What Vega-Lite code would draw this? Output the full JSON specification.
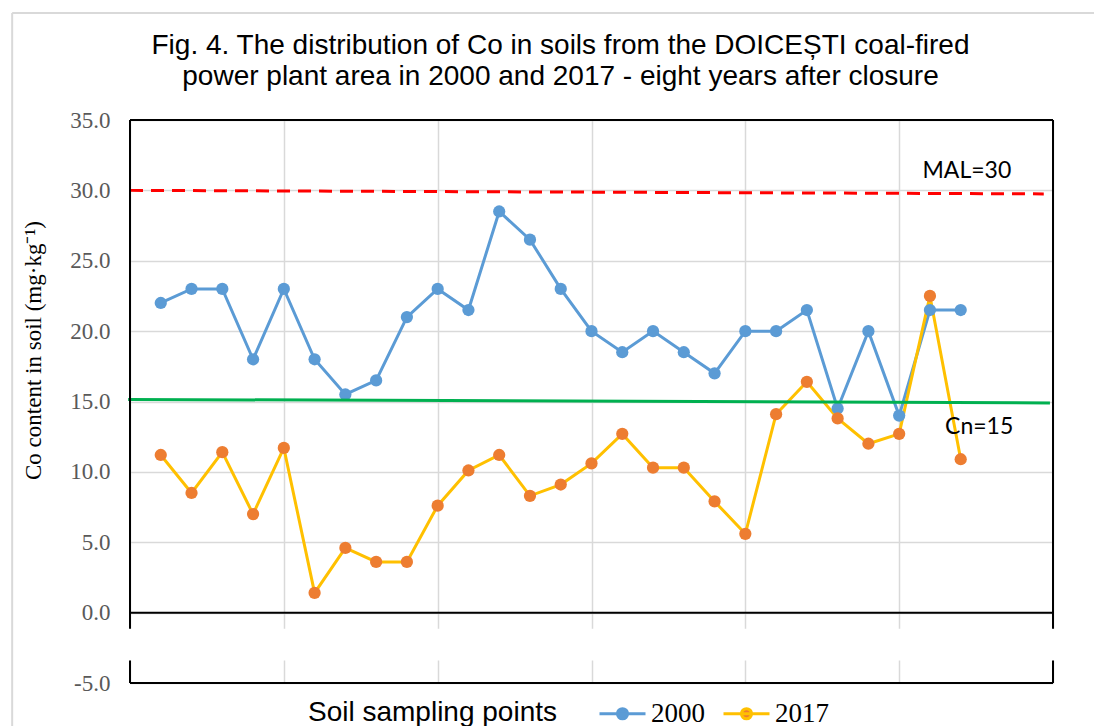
{
  "$schema": "https://vega.github.io/schema/vega-lite/v6.json",
  "width": 923,
  "height": 563,
  "autosize": {"type": "none"},
  "padding": {"left": 130, "top": 120, "right": 41, "bottom": 43},
  "background": "white",
  "config": {"view": {"stroke": null}},
  "title": {
    "text": ["Fig. 4. The distribution of Co in soils from the DOICEȘTI  coal-fired", "power plant area in 2000 and 2017 - eight years after closure"],
    "font": "Liberation Sans",
    "fontSize": 28,
    "fontWeight": "normal",
    "color": "#000000",
    "anchor": "middle",
    "baseline": "bottom",
    "dx": -31,
    "offset": -107,
    "lineHeight": 31
  },
  "datasets": {
    "co": [
      {"point": 1, "year": "2000", "value": 22.0},
      {"point": 2, "year": "2000", "value": 23.0},
      {"point": 3, "year": "2000", "value": 23.0},
      {"point": 4, "year": "2000", "value": 18.0},
      {"point": 5, "year": "2000", "value": 23.0},
      {"point": 6, "year": "2000", "value": 18.0},
      {"point": 7, "year": "2000", "value": 15.5},
      {"point": 8, "year": "2000", "value": 16.5},
      {"point": 9, "year": "2000", "value": 21.0},
      {"point": 10, "year": "2000", "value": 23.0},
      {"point": 11, "year": "2000", "value": 21.5},
      {"point": 12, "year": "2000", "value": 28.5},
      {"point": 13, "year": "2000", "value": 26.5},
      {"point": 14, "year": "2000", "value": 23.0},
      {"point": 15, "year": "2000", "value": 20.0},
      {"point": 16, "year": "2000", "value": 18.5},
      {"point": 17, "year": "2000", "value": 20.0},
      {"point": 18, "year": "2000", "value": 18.5},
      {"point": 19, "year": "2000", "value": 17.0},
      {"point": 20, "year": "2000", "value": 20.0},
      {"point": 21, "year": "2000", "value": 20.0},
      {"point": 22, "year": "2000", "value": 21.5},
      {"point": 23, "year": "2000", "value": 14.5},
      {"point": 24, "year": "2000", "value": 20.0},
      {"point": 25, "year": "2000", "value": 14.0},
      {"point": 26, "year": "2000", "value": 21.5},
      {"point": 27, "year": "2000", "value": 21.5},
      {"point": 1, "year": "2017", "value": 11.2},
      {"point": 2, "year": "2017", "value": 8.5},
      {"point": 3, "year": "2017", "value": 11.4},
      {"point": 4, "year": "2017", "value": 7.0},
      {"point": 5, "year": "2017", "value": 11.7},
      {"point": 6, "year": "2017", "value": 1.4},
      {"point": 7, "year": "2017", "value": 4.6},
      {"point": 8, "year": "2017", "value": 3.6},
      {"point": 9, "year": "2017", "value": 3.6},
      {"point": 10, "year": "2017", "value": 7.6},
      {"point": 11, "year": "2017", "value": 10.1},
      {"point": 12, "year": "2017", "value": 11.2},
      {"point": 13, "year": "2017", "value": 8.3},
      {"point": 14, "year": "2017", "value": 9.1},
      {"point": 15, "year": "2017", "value": 10.6},
      {"point": 16, "year": "2017", "value": 12.7},
      {"point": 17, "year": "2017", "value": 10.3},
      {"point": 18, "year": "2017", "value": 10.3},
      {"point": 19, "year": "2017", "value": 7.9},
      {"point": 20, "year": "2017", "value": 5.6},
      {"point": 21, "year": "2017", "value": 14.1},
      {"point": 22, "year": "2017", "value": 16.4},
      {"point": 23, "year": "2017", "value": 13.8},
      {"point": 24, "year": "2017", "value": 12.0},
      {"point": 25, "year": "2017", "value": 12.7},
      {"point": 26, "year": "2017", "value": 22.5},
      {"point": 27, "year": "2017", "value": 10.9}
    ],
    "refs": [
      {"name": "MAL", "start": 30.0, "end": 29.75},
      {"name": "Cn", "start": 15.15, "end": 14.9}
    ]
  },
  "encoding": {
    "x": {
      "type": "quantitative",
      "scale": {"domain": [0, 30], "nice": false, "zero": false},
      "axis": {
        "values": [0, 5, 10, 15, 20, 25, 30],
        "labels": false, "ticks": false, "domain": false,
        "grid": true, "gridColor": "#D9D9D9", "gridWidth": 1.5,
        "title": "Soil sampling points",
        "titleFont": "Liberation Sans", "titleFontSize": 28, "titleFontWeight": "normal", "titleColor": "#000000",
        "titleX": 302, "titleY": 37, "titleBaseline": "alphabetic", "titleAlign": "center"
      }
    },
    "y": {
      "type": "quantitative",
      "scale": {"domain": [-5, 35], "nice": false, "zero": false},
      "axis": {
        "values": [-5, 0, 5, 10, 15, 20, 25, 30, 35],
        "labelExpr": "datum.value < 0 ? '-' + format(-datum.value, '.1f') : format(datum.value, '.1f')",
        "labelFont": "Liberation Serif", "labelFontSize": 23, "labelColor": "#595959", "labelPadding": 20,
        "ticks": false, "domain": false,
        "grid": true, "gridColor": "#D9D9D9", "gridWidth": 1.5,
        "title": "Co content in soil (mg·kg⁻¹)",
        "titleFont": "Liberation Serif", "titleFontSize": 23, "titleFontWeight": "normal", "titleColor": "#000000",
        "titleX": -97, "titleY": 230, "titleAngle": -90, "titleAlign": "center", "titleBaseline": "middle"
      }
    }
  },
  "layer": [
    {
      "data": {"name": "co"},
      "mark": {"type": "line", "strokeWidth": 3},
      "encoding": {
        "x": {"field": "point", "type": "quantitative", "title": "Soil sampling points"},
        "y": {"field": "value", "type": "quantitative", "title": "Co content in soil (mg·kg⁻¹)"},
        "stroke": {
          "field": "year", "type": "nominal",
          "scale": {"domain": ["2000", "2017"], "range": ["#5B9BD5", "#FFC000"]},
          "legend": {
            "orient": "none", "legendX": 468, "legendY": 569, "direction": "horizontal", "title": null,
            "symbolType": "M-1,0H1M0.22,0A0.22,0.22 0 1,1 -0.22,0A0.22,0.22 0 1,1 0.22,0",
            "symbolSize": 2116, "symbolStrokeWidth": 3,
            "labelFont": "Liberation Serif", "labelFontSize": 27, "labelColor": "#000000",
            "labelOffset": 4, "columnPadding": 12, "padding": 0
          }
        }
      }
    },
    {
      "data": {"name": "co"},
      "mark": {"type": "point", "filled": true, "size": 150, "opacity": 1, "strokeWidth": 0},
      "encoding": {
        "x": {"field": "point", "type": "quantitative", "title": "Soil sampling points"},
        "y": {"field": "value", "type": "quantitative", "title": "Co content in soil (mg·kg⁻¹)"},
        "fill": {
          "field": "year", "type": "nominal",
          "scale": {"domain": ["2000", "2017"], "range": ["#5B9BD5", "#ED7D31"]},
          "legend": {
            "orient": "none", "legendX": 468, "legendY": 569, "direction": "horizontal", "title": null,
            "symbolType": "M-1,0H1M0.22,0A0.22,0.22 0 1,1 -0.22,0A0.22,0.22 0 1,1 0.22,0",
            "symbolSize": 2116, "symbolStrokeWidth": 3,
            "labelFont": "Liberation Serif", "labelFontSize": 27, "labelColor": "#000000",
            "labelOffset": 4, "columnPadding": 12, "padding": 0
          }
        }
      }
    },
    {
      "data": {"name": "refs"},
      "transform": [{"filter": "datum.name === 'MAL'"}],
      "mark": {"type": "rule", "color": "#FF0000", "strokeWidth": 3, "strokeDash": [13, 8]},
      "encoding": {
        "x": {"datum": 0, "type": "quantitative", "title": "Soil sampling points"},
        "x2": {"datum": 29.7},
        "y": {"field": "start", "type": "quantitative", "title": "Co content in soil (mg·kg⁻¹)"},
        "y2": {"field": "end"}
      }
    },
    {
      "data": {"name": "refs"},
      "transform": [{"filter": "datum.name === 'Cn'"}],
      "mark": {"type": "rule", "color": "#00B050", "strokeWidth": 3},
      "encoding": {
        "x": {"datum": -0.06, "type": "quantitative", "title": "Soil sampling points"},
        "x2": {"datum": 29.9},
        "y": {"field": "start", "type": "quantitative", "title": "Co content in soil (mg·kg⁻¹)"},
        "y2": {"field": "end"}
      }
    },
    {
      "data": {"values": [{}]},
      "mark": {"type": "rect", "fill": "white", "stroke": null},
      "encoding": {
        "x": {"datum": -0.3, "type": "quantitative", "title": "Soil sampling points"},
        "x2": {"datum": 30.3},
        "y": {"datum": -3.4, "type": "quantitative", "title": "Co content in soil (mg·kg⁻¹)"},
        "y2": {"datum": -1.15}
      }
    },
    {
      "data": {"values": [{}]},
      "mark": {"type": "rule", "color": "#000000", "strokeWidth": 2},
      "encoding": {
        "x": {"datum": 0, "type": "quantitative", "title": "Soil sampling points"},
        "x2": {"datum": 30},
        "y": {"datum": 35, "type": "quantitative", "title": "Co content in soil (mg·kg⁻¹)"}
      }
    },
    {
      "data": {"values": [{}]},
      "mark": {"type": "rule", "color": "#000000", "strokeWidth": 2},
      "encoding": {
        "x": {"datum": 0, "type": "quantitative", "title": "Soil sampling points"},
        "x2": {"datum": 30},
        "y": {"datum": 0, "type": "quantitative", "title": "Co content in soil (mg·kg⁻¹)"}
      }
    },
    {
      "data": {"values": [{}]},
      "mark": {"type": "rule", "color": "#000000", "strokeWidth": 2},
      "encoding": {
        "x": {"datum": 0, "type": "quantitative", "title": "Soil sampling points"},
        "x2": {"datum": 30},
        "y": {"datum": -5, "type": "quantitative", "title": "Co content in soil (mg·kg⁻¹)"}
      }
    },
    {
      "data": {"values": [{}]},
      "mark": {"type": "rule", "color": "#000000", "strokeWidth": 2},
      "encoding": {
        "x": {"datum": 0, "type": "quantitative", "title": "Soil sampling points"},
        "y": {"datum": -1.15, "type": "quantitative", "title": "Co content in soil (mg·kg⁻¹)"},
        "y2": {"datum": 35}
      }
    },
    {
      "data": {"values": [{}]},
      "mark": {"type": "rule", "color": "#000000", "strokeWidth": 2},
      "encoding": {
        "x": {"datum": 0, "type": "quantitative", "title": "Soil sampling points"},
        "y": {"datum": -5, "type": "quantitative", "title": "Co content in soil (mg·kg⁻¹)"},
        "y2": {"datum": -3.4}
      }
    },
    {
      "data": {"values": [{}]},
      "mark": {"type": "rule", "color": "#000000", "strokeWidth": 2},
      "encoding": {
        "x": {"datum": 30, "type": "quantitative", "title": "Soil sampling points"},
        "y": {"datum": -1.15, "type": "quantitative", "title": "Co content in soil (mg·kg⁻¹)"},
        "y2": {"datum": 35}
      }
    },
    {
      "data": {"values": [{}]},
      "mark": {"type": "rule", "color": "#000000", "strokeWidth": 2},
      "encoding": {
        "x": {"datum": 30, "type": "quantitative", "title": "Soil sampling points"},
        "y": {"datum": -5, "type": "quantitative", "title": "Co content in soil (mg·kg⁻¹)"},
        "y2": {"datum": -3.4}
      }
    },
    {
      "data": {"values": [{}]},
      "mark": {"type": "rule", "color": "#D9D9D9", "strokeWidth": 2},
      "encoding": {
        "x": {"datum": -3.83, "type": "quantitative", "title": "Soil sampling points"},
        "x2": {"datum": 31.4},
        "y": {"datum": 42.6, "type": "quantitative", "title": "Co content in soil (mg·kg⁻¹)"}
      }
    },
    {
      "data": {"values": [{}]},
      "mark": {"type": "rule", "color": "#D9D9D9", "strokeWidth": 2},
      "encoding": {
        "x": {"datum": -3.83, "type": "quantitative", "title": "Soil sampling points"},
        "y": {"datum": -8.5, "type": "quantitative", "title": "Co content in soil (mg·kg⁻¹)"},
        "y2": {"datum": 42.6}
      }
    },
    {
      "data": {"values": [{}]},
      "mark": {"type": "text", "text": "MAL=30", "font": "Lato", "fontSize": 23, "color": "#000000", "align": "center", "baseline": "middle"},
      "encoding": {
        "x": {"datum": 27.2, "type": "quantitative", "title": "Soil sampling points"},
        "y": {"datum": 31.35, "type": "quantitative", "title": "Co content in soil (mg·kg⁻¹)"}
      }
    },
    {
      "data": {"values": [{}]},
      "mark": {"type": "text", "text": "Cn=15", "font": "Lato", "fontSize": 23, "color": "#000000", "align": "center", "baseline": "middle"},
      "encoding": {
        "x": {"datum": 27.6, "type": "quantitative", "title": "Soil sampling points"},
        "y": {"datum": 13.2, "type": "quantitative", "title": "Co content in soil (mg·kg⁻¹)"}
      }
    }
  ]
}
